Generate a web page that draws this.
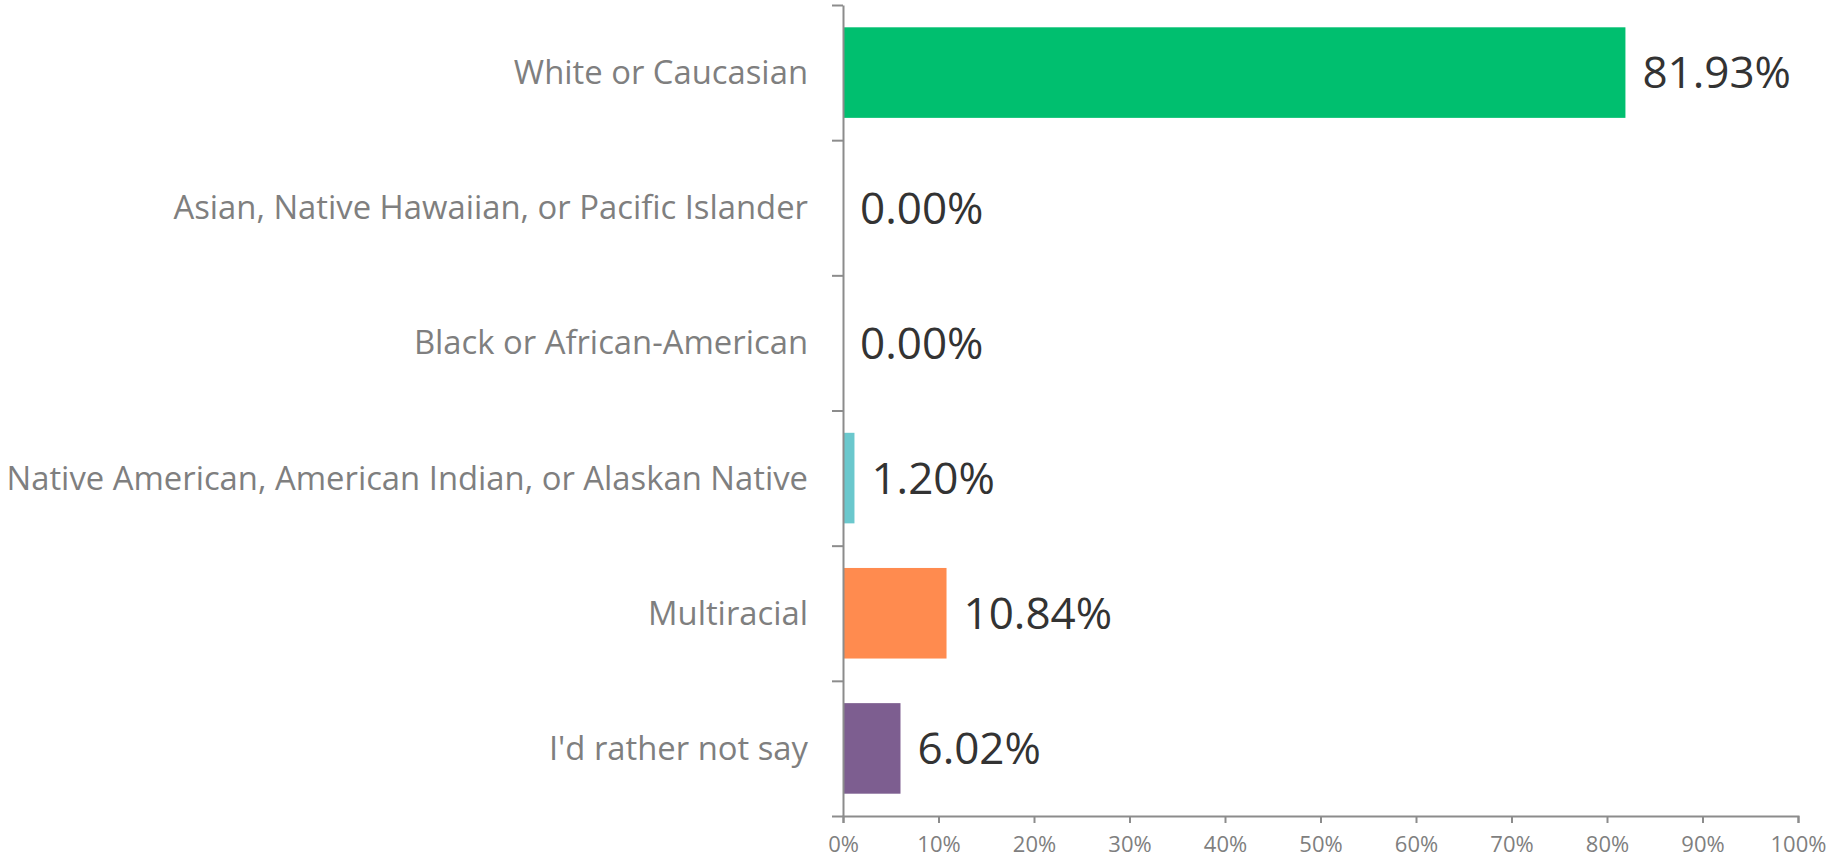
<!DOCTYPE html>
<html>
<head>
<meta charset="utf-8">
<script src="https://cdn.jsdelivr.net/npm/d3@7"></script>
<style>
	body { margin: 0; background: #fff; }
	svg { display: block; font-family: 'Open Sans', sans-serif; }
	.axis path, .axis line { stroke: #8c8c8c; stroke-width: 2px; }
</style>
</head>
<body>
<div id="chart"></div>
<script>
const categories = [
	'White or Caucasian',
	'Asian, Native Hawaiian, or Pacific Islander',
	'Black or African-American',
	'Native American, American Indian, or Alaskan Native',
	'Multiracial',
	"I'd rather not say",
];
const values = [81.93, 0.0, 0.0, 1.2, 10.84, 6.02];
const colors = ['#00bf6f', '#00bf6f', '#00bf6f', '#6bc8cd', '#ff8b4f', '#7d5e90'];
const xTicks = [0, 10, 20, 30, 40, 50, 60, 70, 80, 90, 100];

const width = 1847;
const height = 864;
const margin = {top: 5, right: 49, bottom: 48, left: 843};

const svg = d3
	.select('#chart')
	.append('svg')
	.attr('width', width)
	.attr('height', height);

const x = d3
	.scaleLinear()
	.domain([0, 100])
	.range([margin.left, width - margin.right]);

const y = d3
	.scaleBand()
	.domain(categories)
	.range([margin.top, height - margin.bottom])
	.paddingInner(0.33)
	.paddingOuter(0.165);

// boundaries between categories, for the left ticks
const yEdge = d3
	.scaleLinear()
	.domain([0, categories.length])
	.range([margin.top, height - margin.bottom]);

// bars
svg.append('g')
	.selectAll('rect')
	.data(values)
	.enter()
	.append('rect')
	.attr('x', x(0))
	.attr('y', (d, i) => y(categories[i]))
	.attr('width', d => x(d) - x(0))
	.attr('height', y.bandwidth())
	.attr('fill', (d, i) => colors[i]);

// x axis
const xAxis = svg
	.append('g')
	.attr('class', 'axis')
	.attr('transform', `translate(0,${height - margin.bottom})`)
	.call(
		d3
			.axisBottom(x)
			.tickValues(xTicks)
			.tickSize(7)
			.tickSizeOuter(7)
			.tickFormat(d => d + '%')
	);
xAxis.selectAll('text')
	.attr('y', 29)
	.attr('dy', '0.32em')
	.attr('fill', '#7f7f7f')
	.style('font-size', '22px')
	.style('font-family', "'Open Sans', sans-serif");

// y axis (ticks on category boundaries)
svg.append('g')
	.attr('class', 'axis')
	.attr('transform', `translate(${x(0)},0)`)
	.call(
		d3
			.axisLeft(yEdge)
			.tickValues(d3.range(categories.length + 1))
			.tickSize(11)
			.tickSizeOuter(0)
			.tickFormat('')
	);

// category labels
svg.append('g')
	.selectAll('text')
	.data(categories)
	.enter()
	.append('text')
	.attr('x', x(0) - 35)
	.attr('y', d => y(d) + y.bandwidth() / 2)
	.attr('dy', '0.35em')
	.attr('text-anchor', 'end')
	.attr('fill', '#7f7f7f')
	.style('font-size', '32.8px')
	.text(d => d);

// value labels
svg.append('g')
	.selectAll('text')
	.data(values)
	.enter()
	.append('text')
	.attr('x', d => x(d) + 17)
	.attr('y', (d, i) => y(categories[i]) + y.bandwidth() / 2)
	.attr('dy', '0.36em')
	.attr('fill', '#333333')
	.style('font-size', '44px')
	.text(d => d.toFixed(2) + '%');
</script>
</body>
</html>
